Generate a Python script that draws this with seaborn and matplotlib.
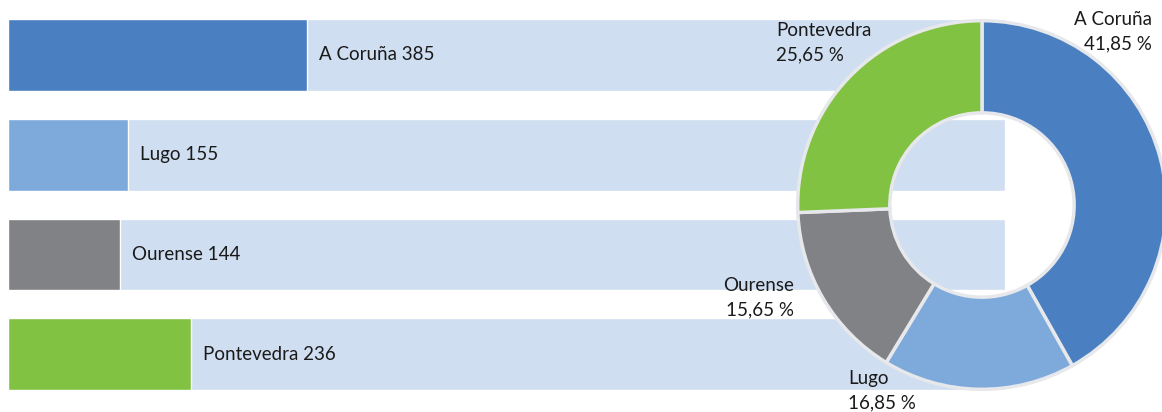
import matplotlib
matplotlib.use("Agg")
import matplotlib.pyplot as plt
import seaborn as sns
import pandas as pd

# ---- data ----
categories = ["A Coruña", "Lugo", "Ourense", "Pontevedra"]
values = [385, 155, 144, 236]
percents = [41.85, 16.85, 15.65, 25.65]
percent_labels = ["41,85 %", "16,85 %", "15,65 %", "25,65 %"]
bar_max = 1283

colors = ["#4a80c2", "#7eaadb", "#808285", "#82c242"]
bg_color = "#cfdef0"
edge_color = "#e6e8eb"

sns.set_theme(style="white")
plt.rcParams["font.family"] = ["Lato", "DejaVu Sans"]

W, H = 1162, 412
fig = plt.figure(figsize=(W / 100, H / 100), dpi=100)

# ---- bar axes ----
pitch = 99.7
top_px = 55 - pitch / 2
left_px, right_px = 8, 1005
ax = fig.add_axes([left_px / W, (H - top_px - 4 * pitch) / H,
                   (right_px - left_px) / W, 4 * pitch / H])
df = pd.DataFrame({"cat": categories, "val": values, "bg": [bar_max] * 4})
sns.barplot(data=df, x="bg", y="cat", color=bg_color, saturation=1,
            width=0.72, ax=ax, orient="h")
sns.barplot(data=df, x="val", y="cat", hue="cat", palette=colors,
            saturation=1, width=0.72, ax=ax, orient="h", legend=False)
ax.set_xlim(0, bar_max)
ax.set_ylim(3.5, -0.5)
ax.axis("off")
for i, (c, v) in enumerate(zip(categories, values)):
    ax.annotate(f"{c} {v}", xy=(v, i), xytext=(12, 0),
                textcoords="offset pixels", va="center", ha="left",
                fontsize=13.5, color="#1a1a1a")

# ---- donut ----
cx, cy, r = 982, 205, 188
pax = fig.add_axes([(cx - r) / W, (H - cy - r) / H, 2 * r / W, 2 * r / H])
pax.pie(percents, colors=colors, startangle=90, counterclock=False,
        radius=1, wedgeprops=dict(width=0.5, edgecolor=edge_color, linewidth=2.5))
pax.set_xlim(-1.02, 1.02)
pax.set_ylim(-1.02, 1.02)
pax.set_aspect("equal")
pax.axis("off")

def ftext(x, y, s, ha):
    fig.text(x / W, 1 - y / H, s, ha=ha, va="top", fontsize=13.5,
             color="#1a1a1a", linespacing=1.5)

ftext(1152, 11, f"{categories[0]}\n{percent_labels[0]}", "right")
ftext(776, 22, f"{categories[3]}\n{percent_labels[3]}", "left")
ftext(794, 277, f"{categories[2]}\n{percent_labels[2]}", "right")
ftext(848, 370, f"{categories[1]}\n{percent_labels[1]}", "left")

fig.savefig("out.png", dpi=100)
